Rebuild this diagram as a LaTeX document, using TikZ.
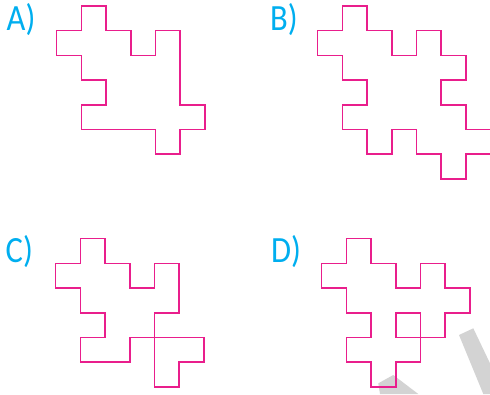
\documentclass[tikz,border=0pt]{standalone}
\usepackage{fontspec}
\setmainfont{Carlito}
\definecolor{pinkline}{RGB}{233,30,140}
\definecolor{cyanlabel}{RGB}{0,174,239}
\definecolor{wmgray}{RGB}{211,211,211}
\tikzset{
  outline/.style={draw=pinkline, line width=1.5pt, line join=miter},
  optlabel/.style={anchor=base west, inner sep=0pt, text=cyanlabel,
    font=\fontsize{37}{40}\selectfont},
  grid cell/.style={x=24.7pt, y=-24.7pt}
}
\newcommand{\optxt}[1]{\scalebox{0.88}[1]{#1}}
\begin{document}
\begin{tikzpicture}[x=1pt, y=-1pt]
\useasboundingbox (0,0) rectangle (490,394);
\clip (0,0) rectangle (490,394);
% watermark bands
\fill[wmgray] (459,335) -- (473.3,328.3) -- (490,363.3) -- (490,394) -- (483.3,394) -- cycle;
\fill[wmgray] (378.3,383.3) -- (393.3,375) -- (418.3,394) -- (380,394) -- cycle;
% labels
\node[optlabel] (labA) at (6.5,30.5) {\optxt{A)}};
\node[optlabel] (labB) at (270,30.5) {\optxt{B)}};
\node[optlabel] (labC) at (5.5,262.3) {\optxt{C)}};
\node[optlabel] (labD) at (271,262.3) {\optxt{D)}};
% A
\begin{scope}[shift={(56.7,6)}, grid cell]
\draw[outline] (1,0) -- (2,0) -- (2,1) -- (3,1) -- (3,2) -- (4,2) -- (4,1) -- (5,1)
  -- (5,4) -- (6,4) -- (6,5) -- (5,5) -- (5,6) -- (4,6) -- (4,5) -- (1,5) -- (1,4)
  -- (2,4) -- (2,3) -- (1,3) -- (1,2) -- (0,2) -- (0,1) -- (1,1) -- cycle;
\end{scope}
% B
\begin{scope}[shift={(317.7,6)}, grid cell]
\draw[outline] (1,0) -- (2,0) -- (2,1) -- (3,1) -- (3,2) -- (4,2) -- (4,1) -- (5,1)
  -- (5,2) -- (6,2) -- (6,3) -- (5,3) -- (5,4) -- (6,4) -- (6,5) -- (7,5) -- (7,6)
  -- (6,6) -- (6,7) -- (5,7) -- (5,6) -- (4,6) -- (4,5) -- (3,5) -- (3,6) -- (2,6)
  -- (2,5) -- (1,5) -- (1,4) -- (2,4) -- (2,3) -- (1,3) -- (1,2) -- (0,2) -- (0,1)
  -- (1,1) -- cycle;
\end{scope}
% C
\begin{scope}[shift={(55.7,238.7)}, grid cell]
\draw[outline] (1,0) -- (2,0) -- (2,1) -- (3,1) -- (3,2) -- (4,2) -- (4,1) -- (5,1)
  -- (5,3) -- (4,3) -- (4,6) -- (5,6) -- (5,5) -- (6,5) -- (6,4) -- (3,4) -- (3,5)
  -- (1,5) -- (1,4) -- (2,4) -- (2,3) -- (1,3) -- (1,2) -- (0,2) -- (0,1) -- (1,1)
  -- cycle;
\end{scope}
% D
\begin{scope}[shift={(321.7,238.7)}, grid cell]
\draw[outline] (1,0) -- (2,0) -- (2,1) -- (3,1) -- (3,2) -- (4,2) -- (4,1) -- (5,1)
  -- (5,2) -- (6,2) -- (6,3) -- (5,3) -- (5,4) -- (3,4) -- (3,3) -- (4,3) -- (4,5)
  -- (3,5) -- (3,6) -- (2,6) -- (2,5) -- (1,5) -- (1,4) -- (2,4) -- (2,3) -- (1,3)
  -- (1,2) -- (0,2) -- (0,1) -- (1,1) -- cycle;
\end{scope}
\end{tikzpicture}
\end{document}
